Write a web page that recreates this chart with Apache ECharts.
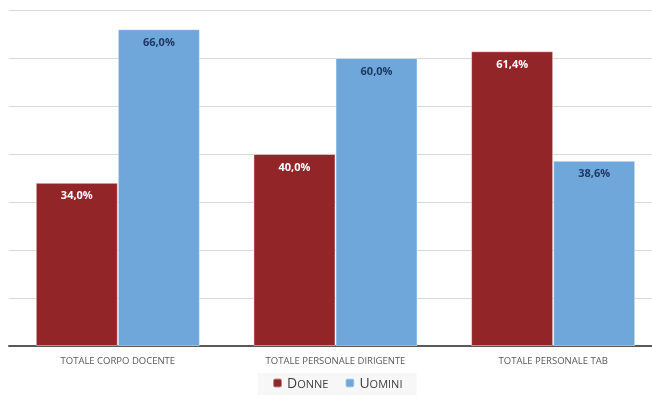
<!DOCTYPE html>
<html>
<head>
<meta charset="utf-8">
<script src="https://cdn.jsdelivr.net/npm/echarts@6/dist/echarts.min.js"></script>
<style>
  html, body { margin: 0; padding: 0; background: #fff; overflow: hidden; }
  #chart { width: 652px; height: 397px; }
</style>
</head>
<body>
<div id="chart"></div>
<script>
// data
const categories = ['TOTALE CORPO DOCENTE', 'TOTALE PERSONALE DIRIGENTE', 'TOTALE PERSONALE TAB'];
const donne = [34.0, 40.0, 61.4];
const uomini = [66.0, 60.0, 38.6];

const myChart = echarts.init(document.getElementById('chart'));

const fmt = (p) => p.value.toFixed(1).replace('.', ',') + '%';

let options = {
    animation: false,
    textStyle: { fontFamily: 'Open Sans, DejaVu Sans, sans-serif' },
    grid: {
        left: 9,
        right: -10,
        top: 10,
        bottom: 51,
        outerBoundsMode: 'none',
        containLabel: false
    },
    legend: {
        bottom: 2,
        left: 258,
        itemWidth: 9,
        itemHeight: 9,
        itemGap: 16,
        padding: [4, 14, 4, 14],
        backgroundColor: '#f7f7f7',
        data: ['Donne', 'Uomini'],
        formatter: (name) => `{a|${name[0].toUpperCase()}}{b|${name.slice(1).toUpperCase()}}`,
        textStyle: {
            color: '#404040',
            rich: {
                a: { fontSize: 14, color: '#404040', lineHeight: 16, verticalAlign: 'bottom' },
                b: { fontSize: 11, color: '#404040', lineHeight: 16, verticalAlign: 'bottom', padding: [0, 0, 1, 0] }
            }
        }
    },
    xAxis: {
        type: 'category',
        data: categories,
        axisLine: { lineStyle: { color: '#595959', width: 2 } },
        axisTick: { show: false },
        axisLabel: { color: '#595959', fontSize: 9.5, margin: 10 }
    },
    yAxis: {
        type: 'value',
        min: 0,
        max: 70,
        interval: 10,
        axisLabel: { show: false },
        axisLine: { show: false },
        axisTick: { show: false },
        splitLine: { lineStyle: { color: '#d9d9d9', width: 1 } }
    },
    series: [
        {
            name: 'Donne',
            type: 'bar',
            barGap: 0,
            barCategoryGap: '24.6%',
            itemStyle: { color: '#922528', borderColor: 'rgba(255,255,255,0.45)', borderWidth: 1 },
            label: {
                show: true,
                position: 'insideTop',
                distance: 8,
                formatter: fmt,
                color: '#ffffff',
                fontWeight: 'bold',
                fontSize: 11
            },
            data: donne
        },
        {
            name: 'Uomini',
            type: 'bar',
            itemStyle: { color: '#6FA7DB', borderColor: 'rgba(255,255,255,0.45)', borderWidth: 1 },
            label: {
                show: true,
                position: 'insideTop',
                distance: 8,
                formatter: fmt,
                color: '#1F3864',
                fontWeight: 'bold',
                fontSize: 11
            },
            data: uomini
        }
    ]
};
myChart.setOption(options);
</script>
</body>
</html>
